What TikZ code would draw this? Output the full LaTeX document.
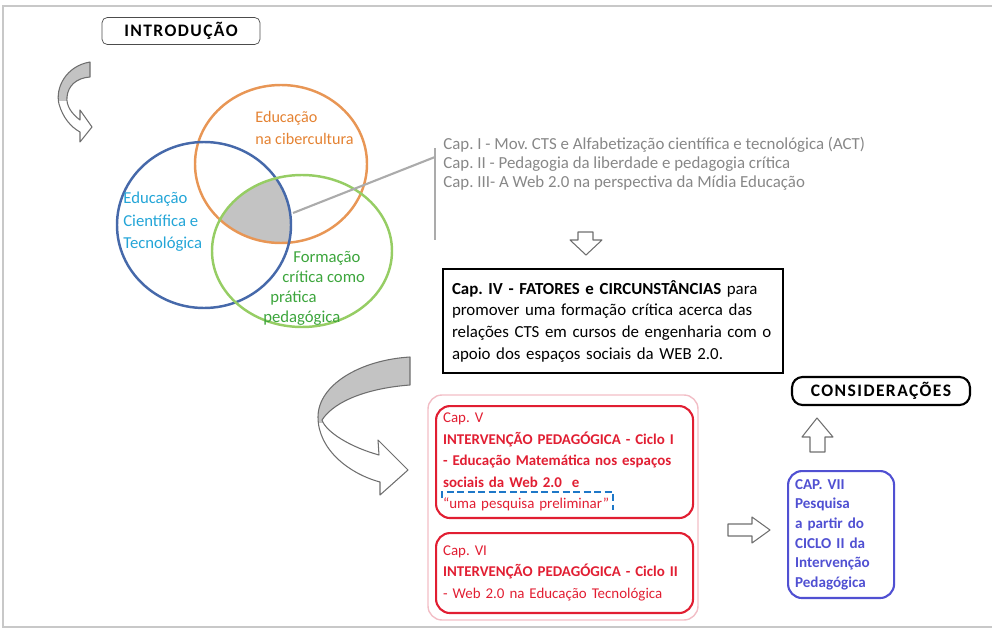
\documentclass[tikz,border=0pt]{standalone}
\usepackage{fontspec}
\setmainfont{Carlito}
\usetikzlibrary{positioning}
\frenchspacing

\definecolor{framegray}{RGB}{200,200,200}
\definecolor{arrowgray}{RGB}{110,110,110}
\definecolor{bandgray}{RGB}{195,195,195}
\definecolor{capgray}{RGB}{135,135,135}
\definecolor{cborange}{RGB}{232,150,85}
\definecolor{txorange}{RGB}{228,130,50}
\definecolor{cbblue}{RGB}{70,105,170}
\definecolor{txblue}{RGB}{35,165,215}
\definecolor{cbgreen}{RGB}{150,205,100}
\definecolor{txgreen}{RGB}{60,165,60}
\definecolor{capred}{RGB}{225,30,50}
\definecolor{pinkline}{RGB}{242,190,198}
\definecolor{capblue}{RGB}{80,80,210}
\definecolor{pesqblue}{RGB}{30,120,200}

\tikzset{
  titlebox/.style={draw, rounded corners=3pt, inner sep=0pt,
    font=\bfseries\fontsize{10}{11}\selectfont\addfontfeatures{LetterSpace=8}},
  redbox/.style={draw=capred, line width=1.2pt, rounded corners=8pt, text=capred, align=left,
    anchor=north west, inner sep=4pt, minimum width=5.14cm, text width=4.86cm,
    font=\fontsize{8.5}{12.2}\selectfont},
  blockarrow/.style={draw=arrowgray, line width=0.6pt, line join=round},
  venn/.style={line width=1.4pt}
}

\begin{document}
\begin{tikzpicture}[x=0.02cm, y=-0.02cm]
  \useasboundingbox (0,0) rectangle (992,636);
  \draw[framegray, line width=0.8pt] (992,6) -- (3,6) -- (3,627) -- (992,627);

  \node (intro) [titlebox, draw=black!70, minimum width=3.16cm, minimum height=0.54cm] at (181,31) {INTRODUÇÃO};

  \begin{scope}
    \clip (40,50) rectangle (100,100);
    \fill[bandgray] (90,62) .. controls (66,66) and (55,88) .. (59,104) .. controls (63,118) and (71,127) .. (80,132) -- (80,142) -- (92,127) -- (80,110) -- (80,120) .. controls (72,114) and (66,106) .. (67,97) .. controls (68,86) and (76,78) .. (90,77) -- cycle;
  \end{scope}
  \draw[blockarrow] (90,62) .. controls (66,66) and (55,88) .. (59,104) .. controls (63,118) and (71,127) .. (80,132) -- (80,142) -- (92,127) -- (80,110) -- (80,120) .. controls (72,114) and (66,106) .. (67,97) .. controls (68,86) and (76,78) .. (90,77) -- cycle;

  \begin{scope}
    \clip (281,164) ellipse [x radius=86, y radius=79];
    \clip (204,225) ellipse [x radius=87, y radius=83];
    \fill[bandgray] (302,251) ellipse [x radius=90, y radius=76];
  \end{scope}
  \draw[venn, cborange] (281,164) ellipse [x radius=86, y radius=79];
  \draw[venn, cbblue] (204,225) ellipse [x radius=87, y radius=83];
  \draw[venn, cbgreen] (302,251) ellipse [x radius=90, y radius=76];

  \node (cibercultura) [anchor=west, align=left, inner sep=0pt, text=txorange, font=\fontsize{9.2}{13}\selectfont] at (255,128) {Educação\\na cibercultura};
  \node (cientifica) [anchor=west, align=left, inner sep=0pt, text=txblue, font=\fontsize{9.5}{12.8}\selectfont] at (123,222) {Educação\\Científica e\\Tecnológica};
  \node (formacao) [anchor=west, align=left, inner sep=0pt, text=txgreen, font=\fontsize{9.5}{11.4}\selectfont] at (263,288) {\hspace*{0.6cm}Formação\\\hspace*{0.38cm}crítica como\\\hspace*{0.14cm}prática\\pedagógica};

  \coordinate (nucleo) at (293,213);
  \coordinate (brjoin) at (435,157);
  \coordinate (brtop) at (435,148);
  \coordinate (brbot) at (435,240);
  \draw[capgray!70, line width=1.2pt] (nucleo) -- (brjoin);
  \draw[capgray!70, line width=1.2pt] (brtop) -- (brbot);

  \node (caps) [anchor=west, align=left, inner sep=0pt, text=capgray, font=\fontsize{9.6}{10.8}\selectfont] at (443,164)
    {Cap. I - Mov. CTS e Alfabetização científica e tecnológica (ACT)\\
     Cap. II - Pedagogia da liberdade e pedagogia crítica\\
     Cap. III- A Web 2.0 na perspectiva da Mídia Educação};

  \draw[blockarrow] (578,232) -- (593,232) -- (593,240) -- (602,240) -- (586,255) -- (570,240) -- (578,240) -- cycle;

  \node (fatores) [draw, line width=1.4pt, anchor=north west, align=left, inner sep=5pt,
    minimum width=6.8cm, minimum height=2.08cm, text width=6.45cm, font=\fontsize{9.6}{12.4}\selectfont] at (442,268)
    {\textbf{Cap. IV - FATORES e CIRCUNSTÂNCIAS} para\\
     promover uma formação crítica acerca das\\
     relações CTS em cursos de engenharia com o\\
     apoio dos espaços sociais da WEB 2.0.};

  \begin{scope}
    \clip (300,340) rectangle (420,422);
    \fill[bandgray] (410,357) .. controls (360,360) and (318,385) .. (318,417) .. controls (318,450) and (350,474) .. (380,482) -- (380,495) -- (408,470) -- (378,440) -- (379,455) .. controls (350,447) and (326,432) .. (322,420) .. controls (335,400) and (370,388) .. (410,385) -- cycle;
  \end{scope}
  \draw[blockarrow] (410,357) .. controls (360,360) and (318,385) .. (318,417) .. controls (318,450) and (350,474) .. (380,482) -- (380,495) -- (408,470) -- (378,440) -- (379,455) .. controls (350,447) and (326,432) .. (322,420) .. controls (335,400) and (370,388) .. (410,385) -- cycle;

  \draw[pinkline, line width=0.8pt, rounded corners=8pt] (428,395) rectangle (698,620);

  \node (capv) [redbox, minimum height=2.24cm] at (435,405)
    {Cap. V\\
     \textbf{INTERVENÇÃO PEDAGÓGICA - Ciclo I}\\
     \textbf{- Educação Matemática nos espaços}\\
     \textbf{sociais da Web 2.0 \ e}\\
     “uma pesquisa preliminar”};
  \draw[pesqblue, line width=1.2pt, dash pattern=on 4pt off 2pt] (442,498) |- (613,492) -- (613,510);

  \node (capvi) [redbox, minimum height=1.6cm] at (435,532)
    {Cap. VI\\
     \textbf{INTERVENÇÃO PEDAGÓGICA - Ciclo II}\\
     - Web 2.0 na Educação Tecnológica};

  \draw[blockarrow] (728,524) -- (752,524) -- (752,517) -- (770,530) -- (752,543) -- (752,536) -- (728,536) -- cycle;

  \node (capvii) [draw=capblue, line width=1.2pt, rounded corners=8pt, anchor=north west, align=left, inner sep=4pt,
    minimum width=2.12cm, minimum height=2.54cm, text width=1.84cm, text=capblue,
    font=\bfseries\fontsize{8.6}{11.2}\selectfont] at (787,470)
    {CAP. VII\\Pesquisa\\a partir do\\CICLO II da\\Intervenção\\Pedagógica};

  \draw[blockarrow] (810,452) -- (825,452) -- (825,437) -- (833,437) -- (817,418) -- (802,437) -- (810,437) -- cycle;

  \node (consideracoes) [titlebox, line width=1.2pt, rounded corners=6pt, minimum width=3.56cm, minimum height=0.56cm] at (881,391) {CONSIDERAÇÕES};
\end{tikzpicture}
\end{document}
